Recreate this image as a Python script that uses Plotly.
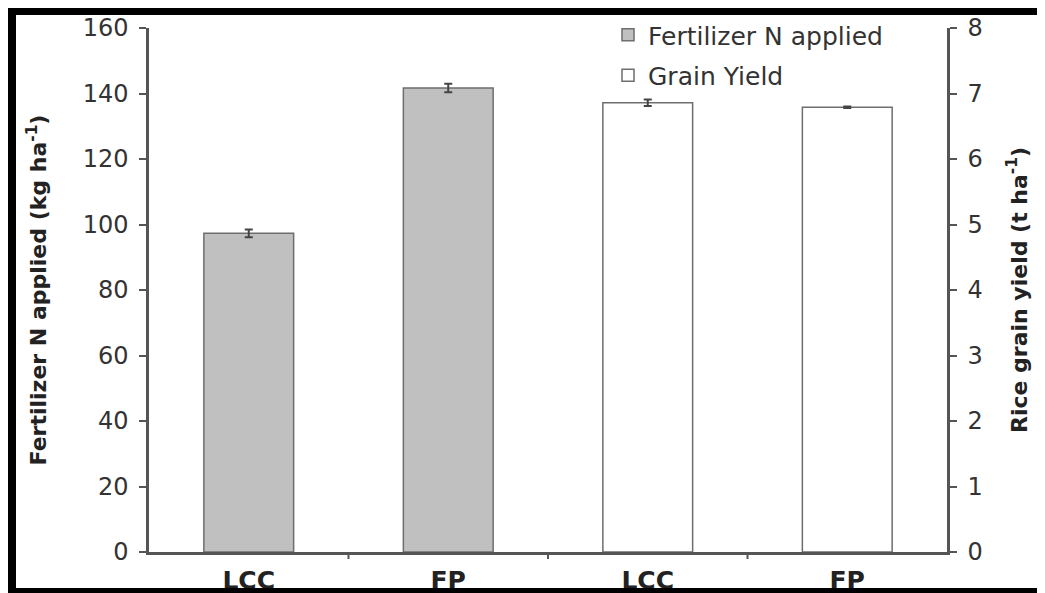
import plotly.graph_objects as go

# ---- data ----
categories = ["LCC", "FP", "LCC", "FP"]
fert_x = [0, 1]
fert_vals = [97.3, 141.7]
fert_err = [1.2, 1.3]
yield_x = [2, 3]
yield_vals = [6.86, 6.79]
yield_err = [0.05, 0.01]
left_ticks = [0, 20, 40, 60, 80, 100, 120, 140, 160]
right_ticks = [0, 1, 2, 3, 4, 5, 6, 7, 8]

W, H = 1037, 585
L, R, T, B = 141, 939, 20, 544
FONT = "DejaVu Sans"

def px(x):
    return (x - L) / (R - L)

def py(y):
    return (B - y) / (B - T)

fig = go.Figure()
fig.add_trace(go.Bar(
    x=fert_x, y=fert_vals, name="Fertilizer N applied", width=0.45,
    marker=dict(color="#c0c0c0", line=dict(color="#6e6e6e", width=1.5)),
    error_y=dict(type="data", array=fert_err, color="#444", thickness=2, width=4),
    legendgroup="a", yaxis="y",
))
fig.add_trace(go.Bar(
    x=yield_x, y=yield_vals, name="Grain Yield", width=0.45,
    marker=dict(color="#ffffff", line=dict(color="#6e6e6e", width=1.5)),
    error_y=dict(type="data", array=yield_err, color="#444", thickness=2, width=4),
    legendgroup="b", yaxis="y2",
))

axis_common = dict(showgrid=False, zeroline=False, showline=True, linecolor="#555",
                   linewidth=2.5, ticks="outside", tickcolor="#555", tickwidth=2, ticklen=7,
                   tickfont=dict(family=FONT, size=24, color="#333"), ticklabelstandoff=6)

fig.update_layout(
    width=W, height=H,
    margin=dict(l=L, r=W - R, t=T, b=H - B, autoexpand=False),
    plot_bgcolor="white", paper_bgcolor="white",
    showlegend=True,
    barmode="overlay",
    legend=dict(x=px(600), y=py(4), xanchor="left", yanchor="top",
                font=dict(family=FONT, size=25, color="#333"),
                bgcolor="rgba(0,0,0,0)", tracegroupgap=5, itemwidth=30),
    xaxis=dict(range=[-0.5, 3.5], tickvals=[0, 1, 2, 3], ticktext=categories,
               showgrid=False, zeroline=False, showline=True, linecolor="#555", linewidth=2.5,
               ticks="", tickfont=dict(family=FONT, size=25, color="#222", weight="bold"),
               ticklabelstandoff=4),
    yaxis=dict(range=[0, 160], tickvals=left_ticks, **axis_common,
               title=dict(text="Fertilizer N applied (kg ha<sup>-1</sup>)",
                          font=dict(family=FONT, size=22, color="#222", weight="bold"),
                          standoff=30)),
    yaxis2=dict(range=[0, 8], tickvals=right_ticks, overlaying="y", side="right", **axis_common,
                title=dict(text="Rice grain yield (t ha<sup>-1</sup>)",
                           font=dict(family=FONT, size=22, color="#222", weight="bold"),
                           standoff=30)),
)

# category separator ticks on x axis
shapes = []
for xv in [0.5, 1.5, 2.5]:
    shapes.append(dict(type="line", xref="x", yref="paper", x0=xv, x1=xv,
                       y0=0, y1=py(B + 7), line=dict(color="#555", width=2)))
# black frame (left, top, bottom)
shapes.append(dict(type="rect", xref="paper", yref="paper", x0=px(0), x1=px(8),
                   y0=py(H), y1=py(0), fillcolor="black", line=dict(width=0), layer="above"))
shapes.append(dict(type="rect", xref="paper", yref="paper", x0=px(0), x1=px(W),
                   y0=py(7), y1=py(0), fillcolor="black", line=dict(width=0), layer="above"))
shapes.append(dict(type="rect", xref="paper", yref="paper", x0=px(0), x1=px(W),
                   y0=py(H), y1=py(580), fillcolor="black", line=dict(width=0), layer="above"))
fig.update_layout(shapes=shapes)

fig.write_html("out.html")
